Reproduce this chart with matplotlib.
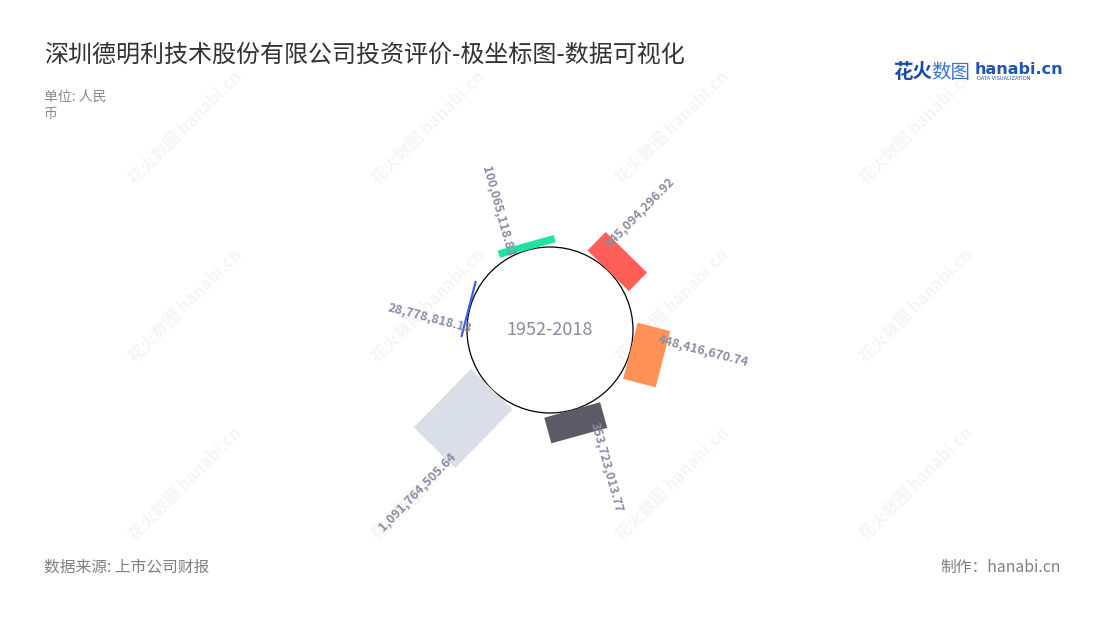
import matplotlib
matplotlib.use("Agg")
import matplotlib.pyplot as plt
from matplotlib.patches import Circle
from matplotlib.transforms import Affine2D

plt.rcParams['font.family'] = ['Noto Sans CJK SC', 'DejaVu Sans']

# data, clockwise from the top
values = [100065118.83, 345094296.92, 448416670.74, 353723013.77, 1091764505.64, 28778818.13]
labels = ['100,065,118.83', '345,094,296.92', '448,416,670.74', '353,723,013.77', '1,091,764,505.64', '28,778,818.13']
colors = ['#1fe3a0', '#ff5f56', '#ff9156', '#5b5a65', '#d9dee8', '#3b5de3']
center_label = '1952-2018'

W, H = 1100, 620
cx, cy = 550, 290          # centre of the polar plot (pixels, y from bottom)
r0 = 83                    # inner circle radius
bar_w = 58                 # tangential width of each bar
max_len = 82               # radial length of the largest bar
start_angle = -15.5        # compass angle of first bar
step = 360 / len(values)
scale = max_len / max(values)

fig = plt.figure(figsize=(11, 6.2), dpi=100)
ax = fig.add_axes([0, 0, 1, 1])
ax.set_xlim(0, W)
ax.set_ylim(0, H)
ax.axis('off')

# watermark
for wx in [185, 428, 672, 916]:
    for wy in [H - 128, H - 306, H - 484]:
        ax.text(wx, wy, '花火数图 hanabi.cn', rotation=45, fontsize=12, color='#000000',
                alpha=0.045, ha='center', va='center', fontweight='bold', zorder=0)

ax.add_patch(Circle((cx, cy), r0, fill=False, lw=0.9, color='black', zorder=2))

for i, v in enumerate(values):
    theta = start_angle + i * step
    tr = Affine2D().rotate_deg(-theta).translate(cx, cy) + ax.transData
    length = v * scale
    ax.bar(0, length, width=bar_w, bottom=r0, color=colors[i], transform=tr, zorder=3)
    # label in the bar frame, offset to the counter-clockwise side
    px, py = tr.transform((-18, r0 + length - 9))
    px, py = ax.transData.inverted().transform((px, py))
    ang = theta % 360
    if ang < 180:
        rot, ha = 90 - ang, 'left'
    else:
        rot, ha = 270 - ang, 'right'
    ax.text(px, py, labels[i], rotation=rot, rotation_mode='anchor', ha=ha, va='center',
            fontsize=9, color='#8c8ca3', fontweight='bold', zorder=4)

ax.text(cx, cy, center_label, ha='center', va='center', fontsize=13, color='#8a8aa2', zorder=4)

# titles and notes
ax.text(44, H - 55, '深圳德明利技术股份有限公司投资评价-极坐标图-数据可视化', fontsize=17.3,
        color='#333333', ha='left', va='center')
ax.text(44, H - 97, '单位: 人民', fontsize=10, color='#8a8a8a', ha='left', va='center')
ax.text(44, H - 114, '币', fontsize=10, color='#8a8a8a', ha='left', va='center')
ax.text(44, H - 567, '数据来源: 上市公司财报', fontsize=11.3, color='#7f7f7f', ha='left', va='center')
ax.text(1061, H - 567, '制作：hanabi.cn', fontsize=11.3, color='#7f7f7f', ha='right', va='center')

# logo
ax.text(893, H - 72, '花火', fontsize=14, color='#1c4c9e', fontweight='bold', ha='left', va='center')
ax.text(931, H - 72, '数图', fontsize=14, color='#3a74cc', ha='left', va='center')
ax.text(975, H - 69, 'hanabi.cn', fontsize=11.5, color='#1f56b0', fontweight='bold', ha='left', va='center',
        family=['DejaVu Sans'])
ax.text(977, H - 79, 'DATA VISUALIZATION', fontsize=3.7, color='#1f56b0', ha='left', va='center',
        family=['DejaVu Sans'])

fig.savefig('out.png', dpi=100)
